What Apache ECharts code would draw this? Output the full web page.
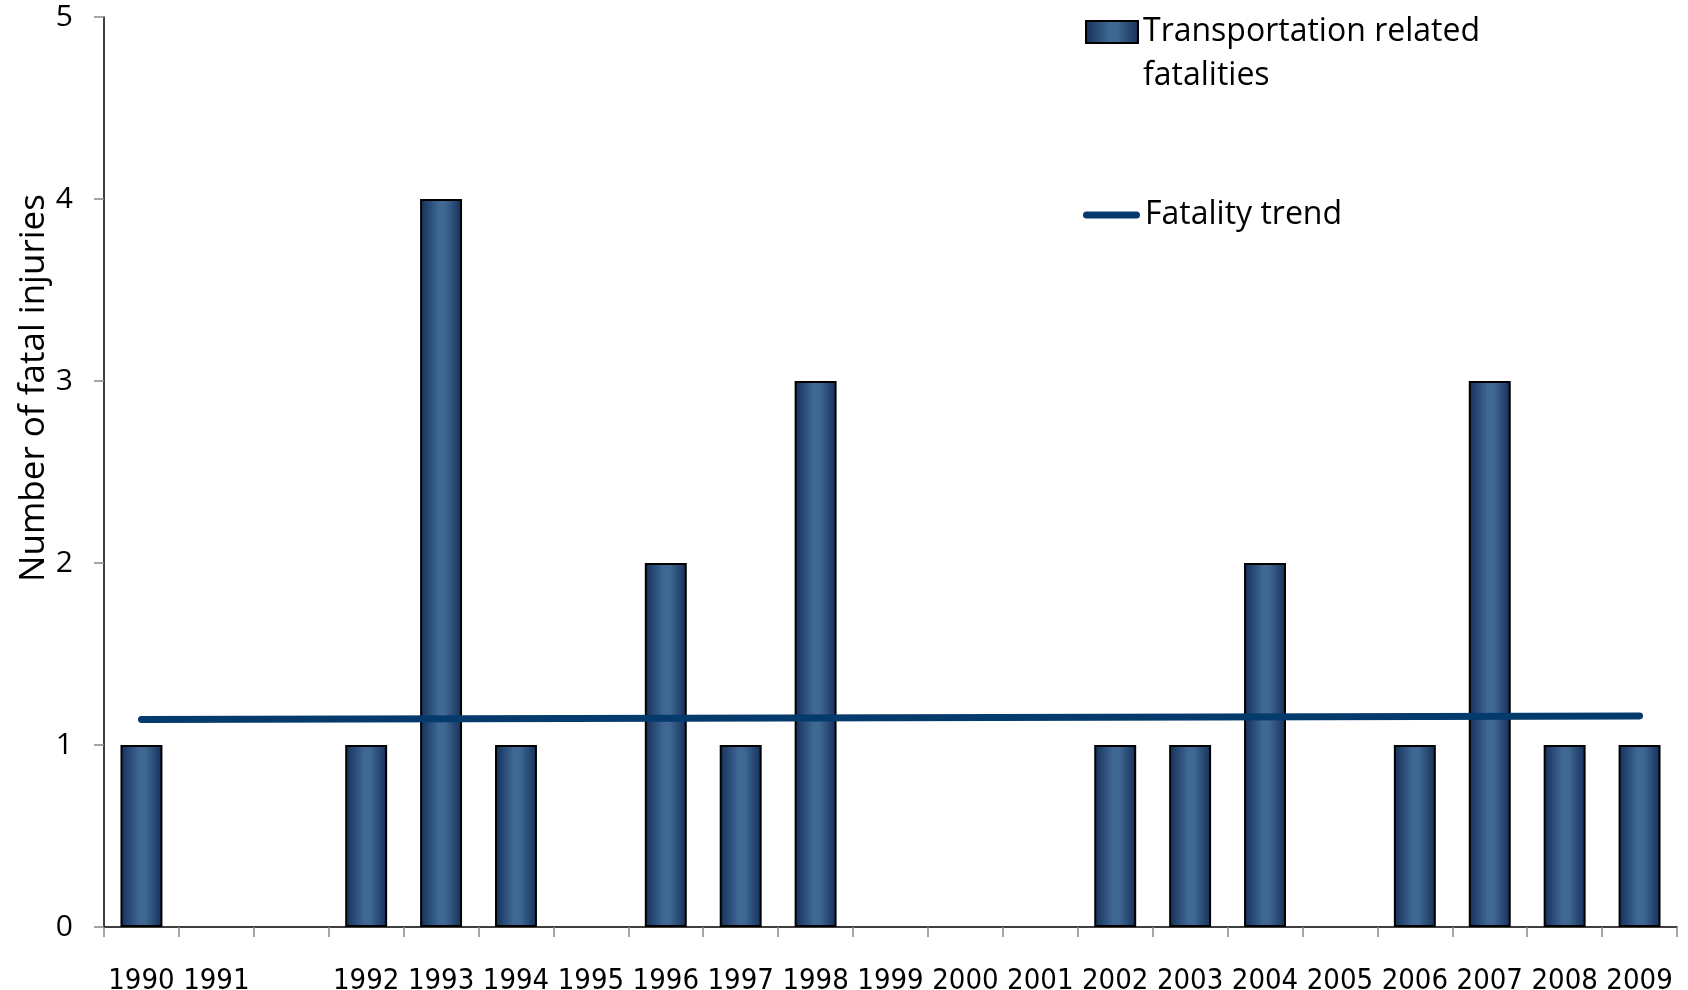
<!DOCTYPE html>
<html>
<head>
<meta charset="utf-8">
<script src="https://cdn.jsdelivr.net/npm/echarts@6/dist/echarts.min.js"></script>
<style>
html,body{margin:0;padding:0;background:#fff;}
#c{width:1688px;height:990px;}
</style>
</head>
<body>
<div id="c"></div>
<script>
const categories = ['1990','1991','','1992','1993','1994','1995','1996','1997','1998','1999','2000','2001','2002','2003','2004','2005','2006','2007','2008','2009'];
const fatalities = [1,null,null,1,4,1,null,2,1,3,null,null,null,1,1,2,null,1,3,1,1];
const trendPoints = [['1990',1.14],['2009',1.16]];
const yTicks = [0,1,2,3,4,5];
const barName = 'Transportation related\nfatalities';
const lineName = 'Fatality trend';

const chart = echarts.init(document.getElementById('c'), null, {renderer:'canvas'});
const barGrad = new echarts.graphic.LinearGradient(0,0,1,0,[
  {offset:0,color:'#142f58'},
  {offset:0.45,color:'#3f6894'},
  {offset:0.6,color:'#3e6792'},
  {offset:1,color:'#142f58'}
]);
chart.setOption({
  animation:false,
  backgroundColor:'#ffffff',
  grid:{left:104,right:11,top:17,bottom:63,containLabel:false,outerBoundsMode:'none'},
  legend:[{
    data:[{name:barName,icon:'path://M0,0 H52 V22 H0 Z M0,66'}],
    left:1085, top:10, padding:0, orient:'vertical',
    itemWidth:52, itemHeight:66, selectedMode:false,
    textStyle:{fontFamily:'Open Sans',fontSize:32,color:'#000',lineHeight:44}
  },{
    data:[{name:lineName,icon:'path://M3.5,0 H53.5 A3.5,3.5 0 0 1 53.5,7 H3.5 A3.5,3.5 0 0 1 3.5,0 Z'}],
    left:1083, top:193, padding:0,
    itemWidth:57, itemHeight:7, selectedMode:false,
    textStyle:{fontFamily:'Open Sans',fontSize:32,color:'#000',lineHeight:44}
  }],
  xAxis:{
    type:'category', data:categories,
    axisLine:{lineStyle:{color:'#000',width:1.5}},
    axisTick:{show:true,alignWithLabel:false,length:10,lineStyle:{color:'#888',width:1.5}},
    axisLabel:{margin:40,color:'#000',fontFamily:'Liberation Sans Narrow, DejaVu Sans Condensed, sans-serif',fontSize:29,interval:0},
    splitLine:{show:false}
  },
  yAxis:{
    type:'value', min:yTicks[0], max:yTicks[yTicks.length-1], interval:1,
    name:'Number of fatal injuries', nameLocation:'middle', nameGap:52, nameRotate:90,
    nameMoveOverlap:false,
    nameTextStyle:{fontFamily:'Open Sans',fontSize:35,color:'#000',padding:[0,0,0,168]},
    axisLine:{show:true,lineStyle:{color:'#000',width:1.5}},
    axisTick:{show:true,inside:false,length:10,lineStyle:{color:'#888',width:1.5}},
    axisLabel:{margin:31,color:'#000',fontFamily:'Open Sans',fontSize:30},
    splitLine:{show:false}
  },
  series:[{
    name:barName, type:'bar', data:fatalities, barWidth:'56%',
    itemStyle:{color:barGrad,borderColor:'#000',borderWidth:2},
    z:2
  },{
    name:lineName, type:'line', data:trendPoints, showSymbol:false, symbol:'none',
    lineStyle:{color:'#053a6c',width:7,cap:'round'},
    itemStyle:{color:'#053a6c'},
    z:5
  }]
});
</script>
</body>
</html>
